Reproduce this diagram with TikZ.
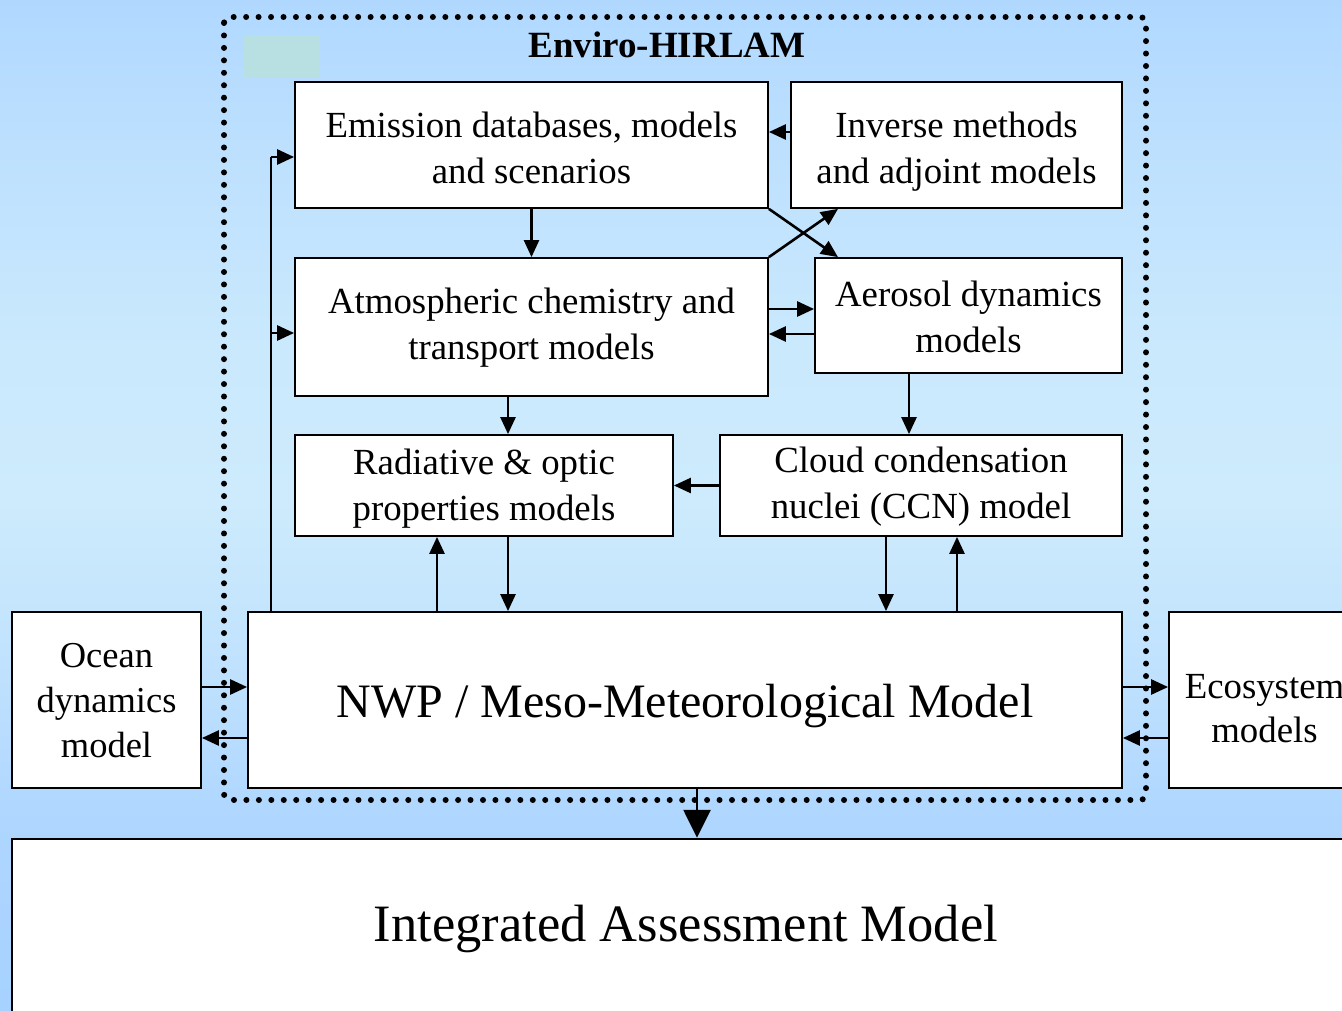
\documentclass[tikz,border=0pt]{standalone}
\usepackage{fontspec}
\setmainfont{Liberation Serif}
\usetikzlibrary{arrows.meta,calc}
\definecolor{bgA}{HTML}{B0D8FF}
\definecolor{bgB}{HTML}{BDE0FE}
\definecolor{bgC}{HTML}{CAE9FD}
\definecolor{bgD}{HTML}{CDEBFC}
\definecolor{bgE}{HTML}{C2E3FE}
\definecolor{bgF}{HTML}{AED6FF}
\definecolor{bgG}{HTML}{A6D2FF}
\definecolor{tealpatch}{HTML}{B8E0E2}
\pgfdeclareverticalshading{bgshade}{100bp}{color(0bp)=(bgG); color(25bp)=(bgG); color(34.4bp)=(bgF); color(42.9bp)=(bgE); color(50.3bp)=(bgD); color(57.7bp)=(bgC); color(67.6bp)=(bgB); color(75bp)=(bgA); color(100bp)=(bgA)}
% first-line strut moving text down by #1
\newcommand\tp[1]{\rule{0pt}{\dimexpr0.7\baselineskip+#1*2\relax}}
\begin{document}
\begin{tikzpicture}[x=1pt,y=-1pt,
  box/.style={draw, fill=white, line width=1.8pt, inner sep=0pt, align=center,
              font=\fontsize{36.8}{46}\selectfont},
  arr/.style={line width=2.6pt, -{Triangle[length=17pt,width=15pt]}},
  bigarr/.style={line width=2.6pt, -{Triangle[length=28pt,width=27pt]}},
  feed/.style={line width=2pt}]
\clip (0,0) rectangle (1342,1011);
\shade[shading=bgshade] (0,0) rectangle (1342,1011);
\fill[tealpatch] (244,35) rectangle (320,78);
% dotted frame
\draw[line width=6pt, dash pattern=on 0pt off 12.45pt, line cap=round, rounded corners=6pt]
  (224,17) rectangle (1146,800);
\node[font=\bfseries\fontsize{37}{42}\selectfont] (title) at (667,45) {Enviro-HIRLAM};
% boxes
\node[box, minimum width=473pt, minimum height=126pt] (emis) at (531.5,145) {\tp{6pt}Emission databases, models\\and scenarios\strut};
\node[box, minimum width=331pt, minimum height=126pt] (inv) at (956.5,145) {\tp{6pt}Inverse methods\\and adjoint models\strut};
\node[box, minimum width=473pt, minimum height=138pt] (atm) at (531.5,327) {\tp{0pt}Atmospheric chemistry and\\transport models\strut};
\node[box, minimum width=307pt, minimum height=115pt] (aer) at (968.5,315.5) {\tp{5pt}Aerosol dynamics\\models\strut};
\node[box, minimum width=378pt, minimum height=101pt] (rad) at (484,485.5) {\tp{2.5pt}Radiative \& optic\\properties models\strut};
\node[box, minimum width=402pt, minimum height=101pt] (ccn) at (921,485.5) {\tp{1pt}Cloud condensation\\nuclei (CCN) model\strut};
\node[box, minimum width=874pt, minimum height=176pt, font=\fontsize{48}{56}\selectfont] (nwp) at (685,700) {\tp{6pt}NWP / Meso-Meteorological Model\strut};
\node[box, minimum width=189pt, minimum height=176pt, font=\fontsize{36.5}{45}\selectfont] (ocean) at (106.5,700) {\tp{3.5pt}Ocean\\dynamics\\model\strut};
\node[box, minimum width=191pt, minimum height=176pt, font=\fontsize{36.8}{44}\selectfont] (eco) at (1264.5,700) {\tp{12pt}Ecosystem\\models\strut};
\node[box, line width=2.4pt, minimum width=1348pt, minimum height=191pt] (iam) at (686,934.5) {};
\node[font=\fontsize{52.5}{60}\selectfont] (iamtext) at (686,929) {Integrated Assessment Model};
% connectors
\draw[arr] (inv.west |- 0,132) -- (emis.east |- 0,132);
\draw[arr] (emis.south) -- (atm.north);
\draw[arr] (emis.south east) -- (aer.north west -| 838,0);
\draw[arr] (atm.north east) -- (inv.south west -| 838,0);
\draw[arr] (atm.east |- 0,309) -- (aer.west |- 0,309);
\draw[arr] (aer.west |- 0,334) -- (atm.east |- 0,334);
\draw[arr] (atm.south -| 508,0) -- (rad.north -| 508,0);
\draw[arr] (aer.south -| 909,0) -- (ccn.north -| 909,0);
\draw[arr] (ccn.west) -- (rad.east);
\draw[arr] (nwp.north -| 437,0) -- (rad.south -| 437,0);
\draw[arr] (rad.south -| 508,0) -- (nwp.north -| 508,0);
\draw[arr] (ccn.south -| 886,0) -- (nwp.north -| 886,0);
\draw[arr] (nwp.north -| 957,0) -- (ccn.south -| 957,0);
\coordinate (fb) at (nwp.north -| 271,0);
\coordinate (ft) at (271,157);
\draw[feed] (fb) -- (ft);
\draw[arr] (ft) -- (emis.west |- ft);
\draw[arr] (271,333) -- (atm.west |- 0,333);
\draw[arr] (ocean.east |- 0,687) -- (nwp.west |- 0,687);
\draw[arr] (nwp.west |- 0,738) -- (ocean.east |- 0,738);
\draw[arr] (nwp.east |- 0,687) -- (eco.west |- 0,687);
\draw[arr] (eco.west |- 0,738) -- (nwp.east |- 0,738);
\draw[bigarr] (nwp.south -| 697,0) -- (iam.north -| 697,0);
\end{tikzpicture}
\end{document}
